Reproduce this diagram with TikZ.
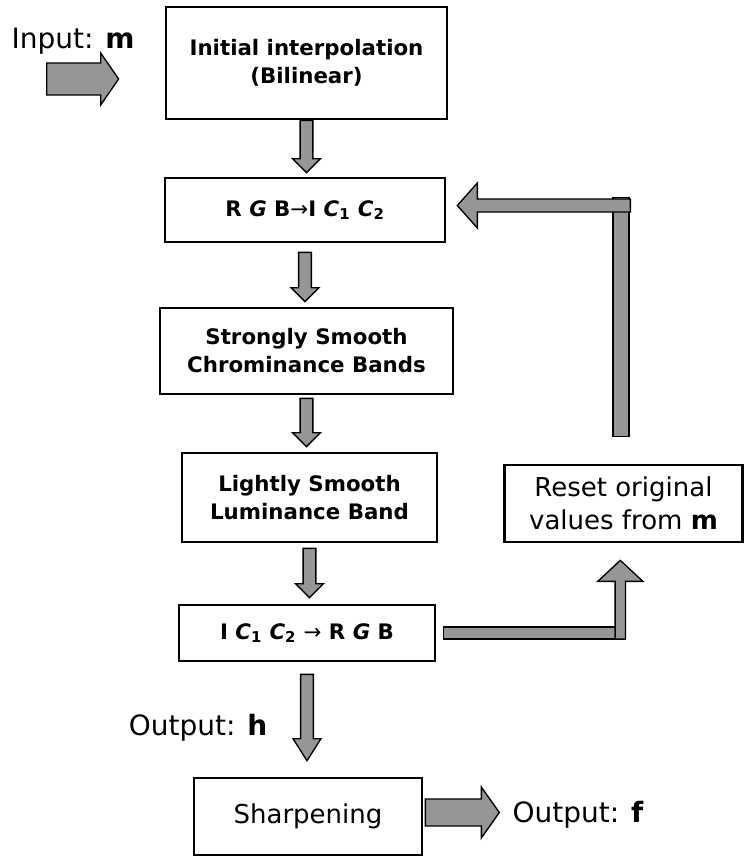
\documentclass[tikz,border=0pt]{standalone}
\usepackage{fontspec}
\setmainfont{DejaVu Sans}
\usetikzlibrary{calc}
\definecolor{arrgray}{RGB}{150,150,150}
\tikzset{
  box/.style={draw, line width=2pt, fill=white, align=center, inner sep=0pt,
    font=\fontsize{16}{21}\selectfont\bfseries},
  plainbox/.style={box, font=\fontsize{19.5}{25}\selectfont},
  lbl/.style={font=\fontsize{21}{25}\selectfont, inner sep=0pt},
  arr/.style={fill=arrgray, draw=black, line width=1pt, line join=miter},
}
% fat arrow from #1 to #2: shaft half width #3, head half width #4, head length #5
\newcommand\fat[5]{%
  \coordinate (fatH) at ($(#2)!#5!(#1)$);
  \filldraw[arr] ($(#1)!#3!90:(#2)$) -- ($(fatH)!#3!90:(#2)$) -- ($(fatH)!#4!90:(#2)$)
    -- (#2) -- ($(fatH)!#4!-90:(#2)$) -- ($(fatH)!#3!-90:(#2)$) -- ($(#1)!#3!-90:(#2)$) -- cycle;}
\begin{document}
\begin{tikzpicture}[x=0.75pt,y=-0.75pt]
\useasboundingbox (0,0) rectangle (744,857);
% boxes
\node[box, minimum width=210.75pt, minimum height=84pt] (b1) at (306.5,63) {Initial interpolation\\(Bilinear)};
\node[box, minimum width=210pt, minimum height=48pt] (b2) at (305,210)
  {R \textit{G} B\textmd{→}I \textit{C}\textsubscript{1} \textit{C}\textsubscript{2}};
\node[box, minimum width=219.75pt, minimum height=64.5pt] (b3) at (306.5,351) {Strongly Smooth\\Chrominance Bands};
\node[box, minimum width=191.25pt, minimum height=66.75pt] (b4) at (309.5,497.5) {Lightly Smooth\\Luminance Band};
\node[box, minimum width=192pt, minimum height=42pt] (b5) at (307,633)
  {I \textit{C}\textsubscript{1} \textit{C}\textsubscript{2} \textmd{→} R \textit{G} B};
\node[plainbox, minimum width=171pt, minimum height=57.75pt] (b6) at (308,816.5) {Sharpening};
\node[plainbox, minimum width=178.5pt, minimum height=57.75pt] (reset) at (623.5,503.5) {Reset original\\values from \textbf{m}};
% labels
\node[lbl] (inp) at (73,41) {Input: \textbf{m}};
\node[lbl] (outh) at (198,728) {Output: \textbf{h}};
\node[lbl] (outf) at (578,815) {Output: \textbf{f}};
% vertical arrows
\coordinate (a1s) at (b1.south);
\coordinate (a1e) at ($(b1.south |- b2.north)+(0,-4)$);
\fat{a1s}{a1e}{4.8pt}{10.5pt}{10.5pt}
\coordinate (a2s) at ($(b2.south)+(0,9)$);
\coordinate (a2e) at ($(b2.south |- b3.north)+(0,-5)$);
\fat{a2s}{a2e}{4.8pt}{10.5pt}{10.5pt}
\coordinate (a3s) at ($(b3.south)+(0,3)$);
\coordinate (a3e) at ($(b3.south |- b4.north)+(0,-5)$);
\fat{a3s}{a3e}{4.8pt}{10.5pt}{10.5pt}
\coordinate (a4s) at ($(b4.south)+(0,5)$);
\coordinate (a4e) at ($(b4.south |- b5.north)+(0,-6)$);
\fat{a4s}{a4e}{4.8pt}{10.5pt}{10.5pt}
\coordinate (a5s) at ($(b5.south)+(0,12)$);
\coordinate (a5e) at ($(b5.south |- b6.north)+(0,-16)$);
\fat{a5s}{a5e}{4.8pt}{10.5pt}{16.5pt}
% input arrow
\coordinate (ins) at ($(b1.west)+(-118,16)$);
\coordinate (ine) at ($(b1.west)+(-46,16)$);
\fat{ins}{ine}{12pt}{19.5pt}{13.5pt}
% output arrow
\coordinate (os) at ($(b6.east)+(2,-4)$);
\coordinate (oe) at ($(b6.east)+(76,-4)$);
\fat{os}{oe}{10.1pt}{19.1pt}{13.5pt}
% feedback: lower
\filldraw[arr] ($(b5.east)+(7,-6)$) rectangle ($(b5.east)+(189,6)$);
\coordinate (ups) at ($(b5.east)+(184,6)$);
\coordinate (upe) at ($(ups |- reset.south)+(0,17)$);
\fat{ups}{upe}{3.9pt}{16.9pt}{15.75pt}
% feedback: upper
\filldraw[arr] ($(reset.north)+(-10.5,-27)$) rectangle ($(reset.north)+(5.5,-266)$);
\coordinate (lfs) at ($(b2.east)+(184,-4.5)$);
\coordinate (lfe) at ($(b2.east)+(11,-4.5)$);
\fat{lfs}{lfe}{4.9pt}{16.9pt}{15pt}
\end{tikzpicture}
\end{document}
